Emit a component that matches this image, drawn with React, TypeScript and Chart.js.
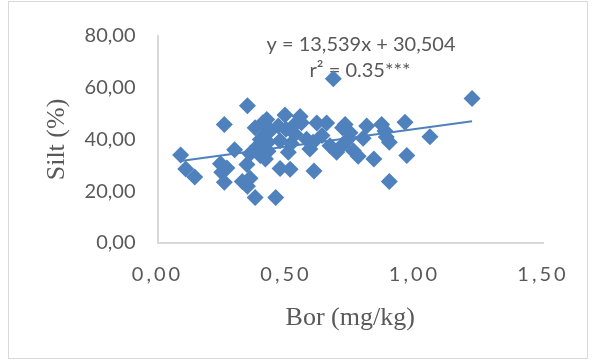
import React, { useEffect, useRef } from "react";
import { Chart, registerables } from "chart.js";

Chart.register(...registerables);

// Bor (mg/kg) values
const boronX = [
  0.09, 0.11, 0.145, 0.26, 0.245, 0.27, 0.25, 0.26, 0.3, 0.35,
  0.33, 0.35, 0.36, 0.348, 0.38, 0.46, 0.36, 0.38, 0.39, 0.4,
  0.4, 0.41, 0.425, 0.42, 0.43, 0.43, 0.42, 0.47, 0.477, 0.477,
  0.496, 0.516, 0.509, 0.52, 0.528, 0.535, 0.555, 0.56, 0.58, 0.593,
  0.605, 0.609, 0.62, 0.64, 0.658, 0.671, 0.684, 0.697, 0.717, 0.73,
  0.749, 0.762, 0.781, 0.8, 0.814, 0.842, 0.872, 0.885, 0.902, 0.902,
  0.963, 0.97, 1.06, 1.224, 0.44, 0.5, 0.74, 0.89, 0.72,
];
// Silt (%) values
const siltY = [
  34.0, 28.6, 25.5, 45.8, 30.6, 29.0, 27.3, 23.5, 36.0, 53.0,
  23.8, 21.9, 25.0, 30.3, 17.6, 17.6, 34.5, 44.5, 37.5, 40.0,
  33.8, 46.5, 47.7, 42.0, 35.5, 38.9, 32.5, 45.2, 39.5, 28.8,
  49.5, 28.5, 35.1, 38.5, 45.2, 42.0, 48.9, 46.5, 40.1, 36.3,
  38.9, 27.8, 46.4, 41.5, 46.4, 37.6, 63.5, 35.1, 37.6, 45.8,
  42.6, 35.7, 33.5, 40.5, 45.2, 32.5, 45.8, 43.3, 38.9, 23.8,
  46.7, 33.8, 41.1, 55.8, 43.5, 44.0, 40.0, 41.0, 44.5,
];

// Trendline from the chart's equation
const trendSlope = 13.539;
const trendIntercept = 30.504;
const trendRange = [0.09, 1.224];

const xTickValues = [0, 0.5, 1, 1.5];
const yTickValues = [0, 20, 40, 60, 80];
const equationLines = ["y = 13,539x + 30,504", "r² = 0.35***"];
const xTitle = "Bor (mg/kg)";
const yTitle = "Silt (%)";

const BLUE = "#4f81bd";
const TEXT = "#595959";
const AXIS = "#d9d9d9";

const fmt = (v: number) => v.toFixed(2).replace(".", ",");

const equationPlugin = {
  id: "equationText",
  beforeDatasetsDraw(chart: any) {
    const ctx = chart.ctx;
    ctx.save();
    ctx.fillStyle = TEXT;
    ctx.font = "20px Lato";
    ctx.textAlign = "center";
    ctx.textBaseline = "middle";
    ctx.fillText(equationLines[0], 352, 43);
    ctx.fillText(equationLines[1], 351, 69);
    ctx.restore();
  },
};

const spacedXLabels = {
  id: "spacedXLabels",
  afterLayout(chart: any) {
    const sc: any = chart.scales.x;
    if (sc && !sc.__spaced) {
      const orig = sc.drawLabels.bind(sc);
      sc.drawLabels = (area: any) => {
        const ctx: any = chart.ctx;
        ctx.save();
        ctx.letterSpacing = "3px";
        orig(area);
        ctx.restore();
      };
      sc.__spaced = true;
    }
  },
};

export default function App() {
  const ref = useRef<HTMLCanvasElement | null>(null);

  useEffect(() => {
    if (!ref.current) return;
    const points = boronX.map((x, i) => ({ x, y: siltY[i] }));
    const trend = trendRange.map((x) => ({ x, y: trendSlope * x + trendIntercept }));
    const chart = new Chart(ref.current, {
      type: "scatter",
      data: {
        datasets: [
          {
            data: trend,
            showLine: true,
            borderColor: BLUE,
            borderWidth: 2,
            pointRadius: 0,
            pointHoverRadius: 0,
          },
          {
            data: points,
            pointStyle: "rectRot",
            pointRadius: 8.5,
            pointBackgroundColor: BLUE,
            pointBorderColor: BLUE,
            pointBorderWidth: 0,
          },
        ],
      },
      options: {
        animation: false,
        responsive: false,
        layout: { padding: { top: 29, right: 44, left: 0, bottom: 0 } },
        plugins: { legend: { display: false }, tooltip: { enabled: false } },
        scales: {
          x: {
            type: "linear",
            min: 0,
            max: 1.5,
            afterFit: (s: any) => {
              s.height = 115;
            },
            afterBuildTicks: (s: any) => {
              s.ticks = xTickValues.map((v) => ({ value: v }));
            },
            grid: { display: false, drawTicks: false },
            border: { display: true, color: AXIS, width: 2 },
            ticks: {
              padding: 20,
              color: TEXT,
              font: { family: "Lato", size: 20 },
              callback: (v: any) => fmt(Number(v)),
            },
            title: {
              display: true,
              text: xTitle,
              color: TEXT,
              font: { family: "Liberation Serif", size: 26 },
              padding: { top: 0, bottom: 24 },
            },
          },
          y: {
            type: "linear",
            min: 0,
            max: 80,
            afterFit: (s: any) => {
              s.width = 148.5;
            },
            afterBuildTicks: (s: any) => {
              s.ticks = yTickValues.map((v) => ({ value: v }));
            },
            grid: { display: false, drawTicks: false },
            border: { display: true, color: AXIS, width: 2 },
            ticks: {
              padding: 22,
              color: TEXT,
              font: { family: "Lato", size: 20 },
              callback: (v: any) => fmt(Number(v)),
            },
            title: {
              display: true,
              text: yTitle,
              color: TEXT,
              font: { family: "Liberation Serif", size: 26 },
              padding: { top: 33, bottom: 0 },
            },
          },
        },
      },
      plugins: [equationPlugin, spacedXLabels],
    } as any);
    return () => chart.destroy();
  }, []);

  return (
    <div
      style={{
        position: "absolute",
        left: 8,
        top: 1,
        width: 578,
        height: 356,
        border: "1px solid #d9d9d9",
        background: "#fff",
      }}
    >
      <canvas ref={ref} width={578} height={356} style={{ display: "block" }} />
    </div>
  );
}
